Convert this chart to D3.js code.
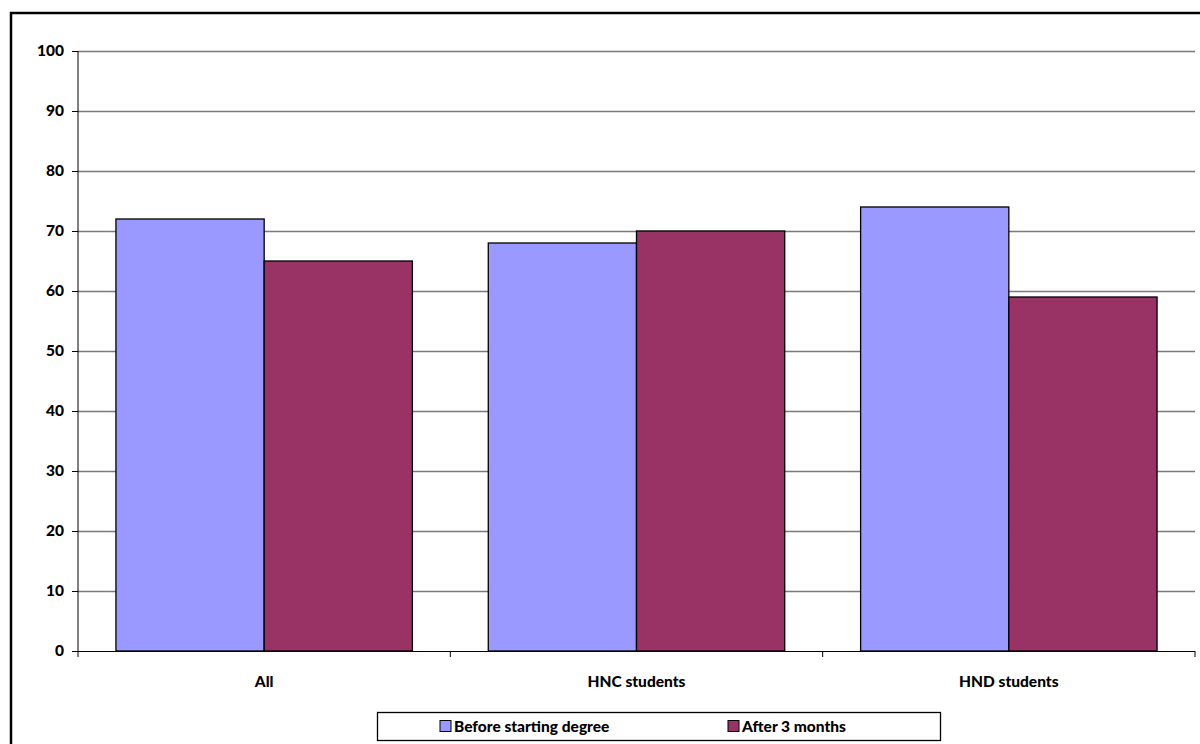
<!DOCTYPE html>
<html><head><meta charset="utf-8">
<script src="https://cdn.jsdelivr.net/npm/d3@7"></script>
<style>body{margin:0;background:#fff}svg{display:block}text{font-family:Lato,"Open Sans",sans-serif;font-weight:900}</style>
</head><body><svg id="c" width="1200" height="744"></svg>
<script>
const categories = ["All", "HNC students", "HND students"];
const seriesNames = ["Before starting degree", "After 3 months"];
const beforeValues = [72, 68, 74];
const afterValues = [65, 70, 59];
const yTicks = [0,10,20,30,40,50,60,70,80,90,100];
const colors = ["#9999FF", "#993366"];

const svg = d3.select("#c");
const L = 78, R = 1195, T = 51, B = 651;
svg.append("rect").attr("x",11).attr("y",13).attr("width",1200).attr("height",740)
  .attr("fill","none").attr("stroke","#000").attr("stroke-width",2.5);

const x = d3.scaleBand().domain(categories).range([L, R]).paddingInner(0).paddingOuter(0);
const y = d3.scaleLinear().domain([0,100]).range([B, T]);
const inner = d3.scaleBand().domain(seriesNames).range([0, x.bandwidth()]).paddingInner(0).paddingOuter(0.256);

// grid
svg.append("g").selectAll("line").data(yTicks.filter(d=>d>0)).join("line")
  .attr("x1",L).attr("x2",R).attr("y1",d=>y(d)+0.5).attr("y2",d=>y(d)+0.5)
  .attr("stroke","#7a7a7a").attr("stroke-width",1.3);

const data = categories.map((c,i)=>({c, vals:[beforeValues[i], afterValues[i]]}));
const g = svg.append("g");
data.forEach(d=>{
  d.vals.forEach((v,j)=>{
    g.append("rect").attr("x", x(d.c)+inner(seriesNames[j])).attr("y", y(v))
      .attr("width", inner.bandwidth()).attr("height", B - y(v))
      .attr("fill", colors[j]).attr("stroke","#000").attr("stroke-width",1.3);
  });
});

// y axis
const ya = svg.append("g").attr("transform",`translate(${L},0)`)
  .call(d3.axisLeft(y).tickValues(yTicks).tickSize(6).tickPadding(8));
ya.select(".domain").attr("stroke","#000").attr("d",`M0,${T}V${B}`);
ya.selectAll("text").attr("font-size",15.5).attr("fill","#000").attr("font-family","Lato,sans-serif").attr("font-weight","900");
ya.selectAll("line").attr("stroke","#000");

// x axis
const xa = svg.append("g").attr("transform",`translate(0,${B})`);
xa.append("line").attr("x1",L).attr("x2",R).attr("y1",0.5).attr("y2",0.5).attr("stroke","#000");
const bounds = categories.map(c=>x(c)).concat([R]);
xa.selectAll("line.t").data(bounds).join("line").attr("class","t")
  .attr("x1",d=>d).attr("x2",d=>d).attr("y1",0).attr("y2",6).attr("stroke","#000");
xa.selectAll("text").data(categories).join("text")
  .attr("x",d=>x(d)+x.bandwidth()/2).attr("y",36).attr("text-anchor","middle")
  .attr("font-size",15.5).attr("fill","#000").text(d=>d);

// legend
const lg = svg.append("g");
lg.append("rect").attr("x",377.5).attr("y",712.5).attr("width",563).attr("height",28)
  .attr("fill","#fff").attr("stroke","#000").attr("stroke-width",1.3);
const lx = [440, 728];
seriesNames.forEach((s,j)=>{
  lg.append("rect").attr("x",lx[j]).attr("y",720.5).attr("width",11).attr("height",11)
    .attr("fill",colors[j]).attr("stroke","#000").attr("stroke-width",1);
  lg.append("text").attr("x",lx[j]+14).attr("y",732).attr("font-size",15.5).attr("fill","#000").text(s);
});
</script></body></html>
